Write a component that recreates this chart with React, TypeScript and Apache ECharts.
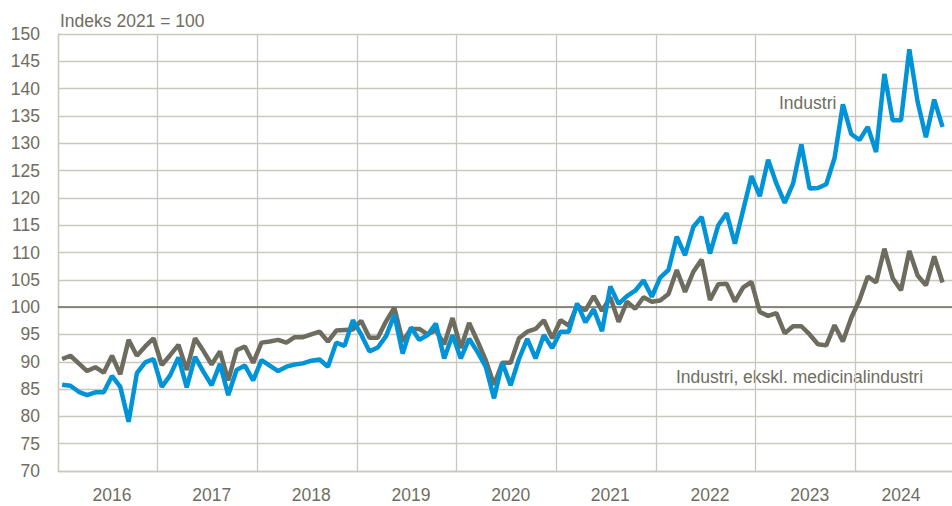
import React, { useEffect, useRef } from 'react';
import * as echarts from 'echarts';

const years = ['2016', '2017', '2018', '2019', '2020', '2021', '2022', '2023', '2024'];
const monthNumbers = ['01', '02', '03', '04', '05', '06', '07', '08', '09', '10', '11', '12'];
// month category on which each year label is centred
const yearLabelMonths = ['2016-07', '2017-07', '2018-07', '2019-07', '2020-07', '2021-07', '2022-07', '2023-07', '2024-06'];

// Industri (Jan 2016 - Nov 2024)
const industri = [
  85.8, 85.6, 84.5, 83.9, 84.4, 84.4, 87.4, 85.4, 79.0, 87.9, 89.9, 90.5,
  85.4, 87.5, 90.8, 85.3, 90.9, 88.2, 85.7, 89.6, 83.9, 88.5, 89.3, 86.6,
  90.3, 89.3, 88.3, 89.1, 89.5, 89.7, 90.2, 90.4, 89.1, 93.5, 92.9, 97.6,
  95.0, 91.9, 92.6, 94.7, 98.6, 91.5, 96.3, 94.0, 94.9, 97.0, 90.6, 94.9,
  90.6, 94.2, 91.8, 89.1, 83.3, 89.8, 85.7, 90.5, 94.2, 90.6, 94.9, 92.5,
  95.5, 95.5, 100.7, 97.2, 99.6, 95.6, 103.8, 100.6, 102.0, 103.0, 104.9, 101.9,
  105.4, 106.8, 112.9, 109.5, 114.7, 116.5, 109.8, 115.0, 117.2, 111.6, 117.8, 124.0,
  120.3, 127.0, 122.6, 119.1, 122.6, 129.8, 121.7, 121.8, 122.5, 127.3, 137.1, 131.7,
  130.6, 133.0, 128.4, 142.7, 134.2, 134.2, 147.2, 137.6, 131.1, 138.0, 133.0,
];

// Industri, ekskl. medicinalindustri (Jan 2016 - Nov 2024)
const ekskl = [
  90.5, 91.1, 89.7, 88.3, 89.0, 88.0, 91.1, 87.7, 94.0, 91.1, 92.8, 94.3,
  89.4, 91.2, 93.1, 88.5, 94.3, 92.0, 89.5, 91.9, 86.6, 92.1, 92.8, 89.8,
  93.5, 93.7, 94.0, 93.5, 94.5, 94.5, 95.0, 95.5, 93.7, 95.7, 95.8, 95.9,
  97.5, 94.4, 94.4, 97.4, 99.9, 93.7, 96.0, 96.0, 95.0, 95.8, 93.2, 98.0,
  92.5, 97.1, 93.8, 90.3, 85.8, 89.8, 89.8, 94.3, 95.5, 96.0, 97.6, 94.3,
  97.6, 96.6, 100.3, 99.4, 102.0, 99.3, 101.8, 97.3, 101.0, 99.7, 101.8, 101.0,
  101.2, 102.4, 106.8, 102.8, 106.5, 108.7, 101.3, 104.2, 104.3, 101.0, 103.6, 104.6,
  99.1, 98.4, 98.9, 95.2, 96.5, 96.5, 95.0, 93.2, 93.0, 96.7, 93.7, 98.0,
  101.3, 105.6, 104.5, 110.7, 105.3, 103.1, 110.3, 105.8, 104.0, 109.3, 104.5,
];

const yMin = 70;
const yMax = 150;
const yStep = 5;
const baseLine = 100;

const categories = years.flatMap((y) => monthNumbers.map((m) => `${y}-${m}`));

const FONT = '"Liberation Sans", Arial, sans-serif';
const FS = 17.5;
const TEXT = '#6f6d60';
const GRAY = '#6e6c5f';
const BLUE = '#0093d7';
const GRID = '#c9c8be';

export default function App() {
  const ref = useRef<HTMLDivElement>(null);
  useEffect(() => {
    const chart = echarts.init(ref.current as HTMLDivElement, null, { renderer: 'svg' });
    chart.setOption({
      animation: false,
      backgroundColor: '#ffffff',
      grid: { left: 58, right: 0, top: 34, bottom: 35 },
      xAxis: {
        type: 'category',
        data: categories,
        boundaryGap: true,
        axisLine: { show: true, lineStyle: { color: GRID, width: 1.3 } },
        axisTick: { show: false },
        axisLabel: {
          interval: (_i: number, v: string) => yearLabelMonths.includes(v),
          formatter: (v: string) => v.slice(0, 4),
          color: TEXT,
          fontSize: FS,
          fontFamily: FONT,
          margin: 15,
        },
        splitLine: {
          show: true,
          interval: (i: number) => i % 12 === 0,
          lineStyle: { color: GRID, width: 1.3 },
        },
      },
      yAxis: {
        type: 'value',
        min: yMin,
        max: yMax,
        interval: yStep,
        axisLine: { show: true, lineStyle: { color: GRID, width: 1.3 } },
        axisTick: { show: false },
        axisLabel: { color: TEXT, fontSize: FS, fontFamily: FONT, margin: 18 },
        splitLine: { show: true, lineStyle: { color: GRID, width: 1.3 } },
      },
      graphic: [
        {
          type: 'text',
          x: 60,
          y: 21,
          style: { text: 'Indeks 2021 = 100', fill: TEXT, font: `${FS}px ${FONT}`, verticalAlign: 'middle' },
        },
        {
          type: 'text',
          x: 779,
          y: 103,
          style: { text: 'Industri', fill: TEXT, font: `${FS}px ${FONT}`, verticalAlign: 'middle' },
        },
        {
          type: 'text',
          x: 676,
          y: 377,
          style: { text: 'Industri, ekskl. medicinalindustri', fill: TEXT, font: `${FS}px ${FONT}`, verticalAlign: 'middle' },
        },
      ],
      series: [
        {
          name: 'Industri, ekskl. medicinalindustri',
          type: 'line',
          data: ekskl,
          symbol: 'none',
          lineStyle: { color: GRAY, width: 4.5 },
          itemStyle: { color: GRAY },
          z: 3,
          markLine: {
            silent: true,
            symbol: ['none', 'none'],
            label: { show: false },
            lineStyle: { color: GRAY, width: 1.6, type: 'solid' },
            data: [{ yAxis: baseLine }],
            z: 2,
          },
        },
        {
          name: 'Industri',
          type: 'line',
          data: industri,
          symbol: 'none',
          lineStyle: { color: BLUE, width: 4.5 },
          itemStyle: { color: BLUE },
          z: 4,
        },
      ],
    });
    return () => chart.dispose();
  }, []);
  return (
    <div style={{ position: 'absolute', left: 0, top: 0, width: 952, height: 506, overflow: 'hidden', background: '#fff' }}>
      <div ref={ref} style={{ width: 955, height: 506 }} />
    </div>
  );
}
